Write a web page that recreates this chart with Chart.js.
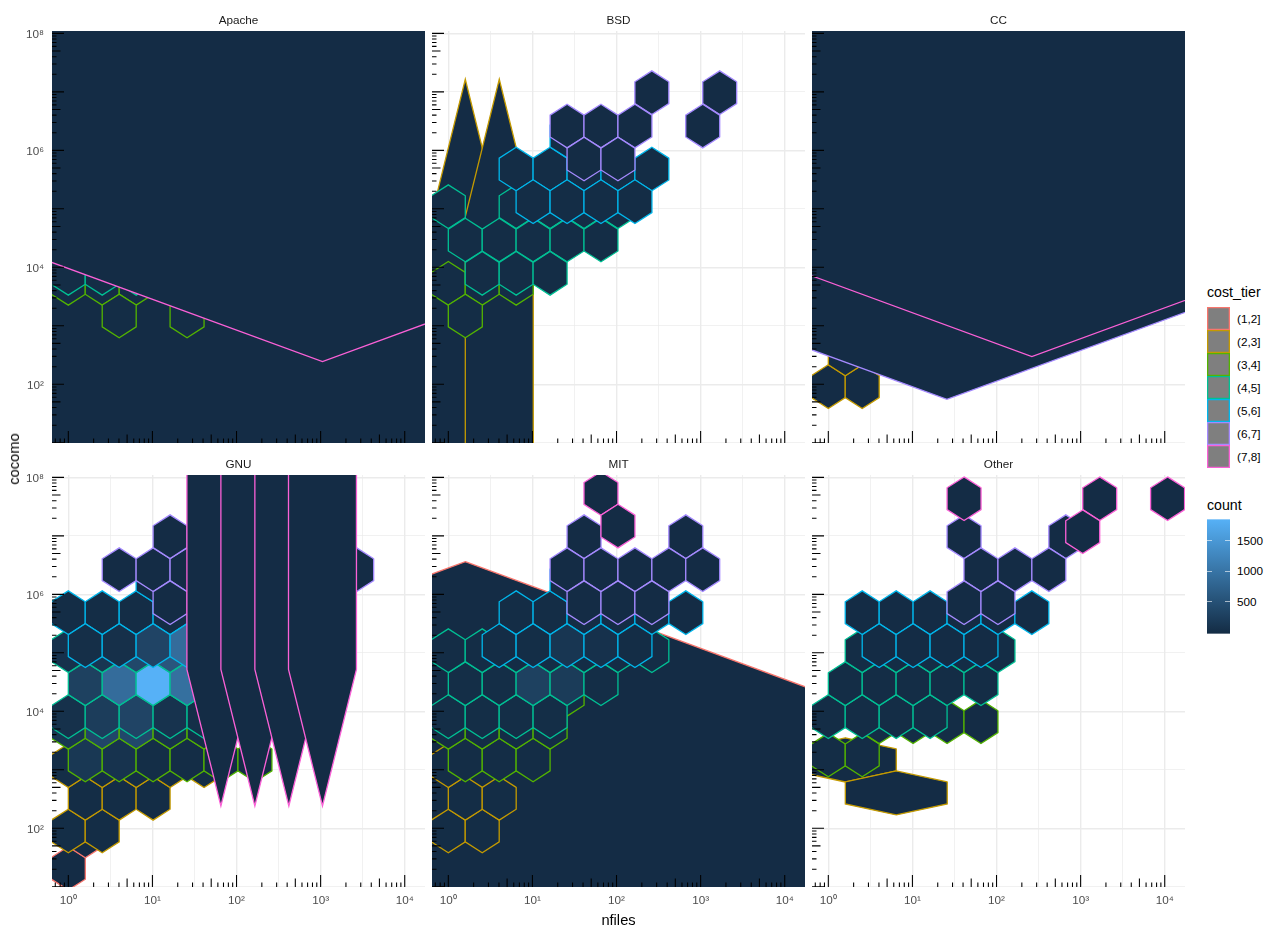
<!DOCTYPE html>
<html>
<head>
<meta charset="utf-8">
<title>cocomo vs nfiles</title>
<script src="https://cdn.jsdelivr.net/npm/chart.js@4/dist/chart.umd.js"></script>
<style>
  html, body { margin: 0; padding: 0; background: #fff; }
  body { position: relative; width: 1280px; height: 936px; overflow: hidden; font-family: "Liberation Sans", sans-serif; color: #000; }
  canvas { position: absolute; }
  .txt { position: absolute; white-space: nowrap; line-height: 16px; height: 16px; }
  .key { position: absolute; left: 1207px; width: 23px; height: 23px; background: #7f7f7f; }
  .bar { position: absolute; left: 1207px; top: 519px; width: 23px; height: 115px; background: linear-gradient(#56b1f7, #132b43); }
  .barTick { position: absolute; height: 1px; width: 4.6px; background: rgba(255,255,255,.6); }
  .barEnd { position: absolute; left: 1207px; height: 1px; width: 23px; background: rgba(255,255,255,.35); }
</style>
</head>
<body>
<script>
const panelNames = ['Apache', 'BSD', 'CC', 'GNU', 'MIT', 'Other'];
const tierLabels = ['(1,2]', '(2,3]', '(3,4]', '(4,5]', '(5,6]', '(6,7]', '(7,8]'];
const tierColors = ['#F8766D', '#C49A00', '#53B400', '#00C094', '#00B6EB', '#A58AFF', '#FB61D7'];
const countLabels = [1500, 1000, 500];

const xTickValues = [1, 1e1, 1e2, 1e3, 1e4];
const xTickLabels = ['10⁰', '10¹', '10²', '10³', '10⁴'];
const xMinorValues = [3.162, 31.62, 316.2, 3162];
const yTickValues = [1e2, 1e4, 1e6, 1e8];
const yTickLabels = ['10²', '10⁴', '10⁶', '10⁸'];
const yMinorValues = [1e1, 1e3, 1e5, 1e7];

// hexes: [tier, log10 nfiles, log10 cocomo, count]
const hexApache = [
  [3, 0, 3.726, 30], [3, .403, 3.726, 30], [3, .807, 3.726, 30], [3, .605, 3.168, 30], [3, 1.412, 3.168, 30],
  [4, 0, 3.897, 30], [4, .403, 3.897, 30], [4, .807, 3.897, 30],
];
const hexBSD = [
  [3, 0, 3.726, 30], [3, .403, 3.726, 30], [3, .807, 3.726, 30], [3, .202, 3.168, 30],
  [4, 0, 5.037, 30], [4, .807, 5.037, 30], [4, 1.21, 5.037, 30], [4, 1.614, 5.037, 30], [4, 2.017, 5.037, 30],
  [4, .202, 4.467, 30], [4, .605, 4.467, 30], [4, 1.008, 4.467, 40], [4, 1.412, 4.467, 30], [4, 1.815, 4.467, 30],
  [4, .403, 3.897, 30], [4, .807, 3.897, 30], [4, 1.21, 3.897, 30],
  [5, .807, 5.681, 30], [5, 1.21, 5.681, 30], [5, 1.614, 5.681, 30], [5, 2.017, 5.681, 30], [5, 2.42, 5.681, 30],
  [5, 1.008, 5.123, 30], [5, 1.412, 5.123, 30], [5, 1.815, 5.123, 30], [5, 2.219, 5.123, 30], [5, 1.412, 6.245, 30],
  [6, 2.42, 6.986, 20], [6, 3.227, 6.986, 20], [6, 1.412, 6.416, 20], [6, 1.815, 6.416, 20], [6, 2.219, 6.416, 20],
  [6, 3.025, 6.416, 20], [6, 1.614, 5.852, 20], [6, 2.017, 5.852, 20],
];
const hexCC = [
  [2, 0, 1.96, 20], [2, .403, 1.96, 20], [2, .202, 2.519, 20],
];
const hexGNU = [
  [1, 0, 1.316, 20], [1, .202, 1.869, 20],
  [2, 0, 1.954, 40], [2, .403, 1.954, 30], [2, .202, 2.513, 30], [2, .605, 2.513, 30], [2, 1.008, 2.513, 30],
  [2, 0, 3.071, 40], [2, .403, 3.071, 30], [2, .807, 3.071, 30], [2, 1.21, 3.071, 30], [2, 1.614, 3.071, 30],
  [3, .202, 3.168, 180], [3, .605, 3.168, 110], [3, 1.008, 3.168, 40], [3, 1.412, 3.168, 30], [3, 1.815, 3.168, 20], [3, 2.219, 3.168, 20],
  [3, 0, 3.726, 150], [3, .403, 3.726, 380], [3, .807, 3.726, 400], [3, 1.21, 3.726, 100], [3, 1.614, 3.726, 40],
  [4, 0, 3.909, 80], [4, .403, 3.909, 250], [4, .807, 3.909, 350], [4, 1.21, 3.909, 110], [4, 1.614, 3.909, 50],
  [4, .202, 4.473, 300], [4, .605, 4.473, 900], [4, 1.008, 4.473, 1850], [4, 1.412, 4.473, 950],
  [4, 0, 5.037, 90], [4, .403, 5.037, 150], [4, .807, 5.037, 400], [4, 1.21, 5.037, 600],
  [5, 0, 5.687, 30], [5, .403, 5.687, 30], [5, .807, 5.687, 30], [5, 1.21, 5.687, 40],
  [5, .202, 5.123, 50], [5, .605, 5.123, 70], [5, 1.008, 5.123, 350], [5, 1.412, 5.123, 900], [5, 1.008, 6.245, 20],
  [6, .605, 6.422, 20], [6, 1.008, 6.422, 20], [6, 1.412, 6.422, 20], [6, 1.21, 6.986, 20], [6, 1.21, 5.858, 20], [6, 3.429, 6.422, 20],
];
const hexMIT = [
  [2, 0, 1.954, 30], [2, .403, 1.954, 30], [2, .202, 2.513, 30], [2, .605, 2.513, 30], [2, 0, 3.071, 30],
  [3, .202, 3.168, 30], [3, .605, 3.168, 30], [3, 1.008, 3.168, 30],
  [3, 0, 3.726, 30], [3, .403, 3.726, 30], [3, .807, 3.726, 30], [3, 1.21, 3.726, 30], [3, 1.412, 4.291, 30],
  [4, 0, 3.909, 40], [4, .403, 3.909, 40], [4, .807, 3.909, 40], [4, 1.21, 3.909, 40],
  [4, .202, 4.473, 40], [4, .605, 4.473, 40], [4, 1.008, 4.473, 300], [4, 1.412, 4.473, 230], [4, 1.815, 4.473, 40],
  [4, 0, 5.037, 30], [4, .403, 5.037, 30], [4, .807, 5.037, 30], [4, 1.21, 5.037, 30], [4, 1.614, 5.037, 30], [4, 2.017, 5.037, 30], [4, 2.42, 5.037, 30],
  [5, .807, 5.687, 30], [5, 1.21, 5.687, 30], [5, 1.614, 5.687, 30], [5, 2.017, 5.687, 30], [5, 2.42, 5.687, 30], [5, 2.824, 5.687, 20],
  [5, .605, 5.123, 30], [5, 1.008, 5.123, 40], [5, 1.412, 5.123, 150], [5, 1.815, 5.123, 90], [5, 2.219, 5.123, 30], [5, 1.412, 6.245, 30],
  [6, 1.614, 6.986, 20], [6, 2.824, 6.986, 20],
  [6, 1.412, 6.422, 20], [6, 1.815, 6.422, 20], [6, 2.219, 6.422, 20], [6, 2.622, 6.422, 20], [6, 3.025, 6.422, 20],
  [6, 1.614, 5.858, 20], [6, 2.017, 5.858, 20], [6, 2.42, 5.858, 20],
  [7, 1.815, 7.726, 20], [7, 2.017, 7.168, 20],
];
const hexOther = [
  [3, 0, 3.254, 30], [3, .403, 3.254, 30], [3, .605, 3.823, 30], [3, 1.008, 3.823, 30], [3, 1.412, 3.823, 30], [3, 1.815, 3.823, 20],
  [4, 0, 3.909, 30], [4, .403, 3.909, 30], [4, .807, 3.909, 30], [4, 1.21, 3.909, 30],
  [4, .202, 4.473, 30], [4, .605, 4.473, 30], [4, 1.008, 4.473, 30], [4, 1.412, 4.473, 30], [4, 1.815, 4.473, 30],
  [4, .403, 5.037, 30], [4, .807, 5.037, 30], [4, 1.21, 5.037, 30], [4, 1.614, 5.037, 30], [4, 2.017, 5.037, 30],
  [5, .403, 5.687, 20], [5, .807, 5.687, 20], [5, 1.21, 5.687, 20], [5, 1.614, 5.687, 20], [5, 2.017, 5.687, 20], [5, 2.42, 5.687, 20],
  [5, .605, 5.123, 20], [5, 1.008, 5.123, 20], [5, 1.412, 5.123, 20], [5, 1.815, 5.123, 20],
  [6, 1.614, 6.986, 20], [6, 2.824, 6.986, 20], [6, 1.815, 6.422, 20], [6, 2.219, 6.422, 20], [6, 2.622, 6.422, 20], [6, 1.614, 5.858, 20], [6, 2.017, 5.858, 20],
  [7, 1.614, 7.635, 20], [7, 3.227, 7.635, 20], [7, 4.034, 7.635, 20], [7, 3.025, 7.071, 20],
];

// bins whose tier had too few rows or columns, so the hex came out stretched:
// [tier, log10 nfiles, log10 cocomo, count, half width, half side] in log10 units
const wideApache = [[2, 1.5, 4, 20, 12, 12], [7, 3.022, 8.655, 20, 5.941, 3.134]];
const wideBSD = [[2, .202, 2.519, 20, .404, 2.348], [2, .606, 2.519, 20, .404, 2.348]];
const wideCC = [[6, 1.41, 7.978, 20, 5.941, 3.117], [7, 2.42, 8.753, 20, 5.941, 3.14]];
const wideGNU = [[7, 1.814, 7.054, 20, .404, 2.336], [7, 2.218, 7.054, 20, .404, 2.336], [7, 2.622, 7.054, 20, .404, 2.336], [7, 3.022, 7.054, 20, .404, 2.336]];
const wideMIT = [[1, .202, .268, 20, 5.941, 3.145]];
const wideOther = [[2, .202, 3.168, 20, .606, .188], [2, .808, 2.604, 20, .606, .188]];

const panelHexes = [hexApache, hexBSD, hexCC, hexGNU, hexMIT, hexOther];
const panelWide = [wideApache, wideBSD, wideCC, wideGNU, wideMIT, wideOther];

const HEX_W = 0.202, HEX_U = 0.1866;
const COUNT_MAX = 1850;
const logMultiples = [1, 2, 3, 4, 5, 6, 7, 8, 9];

function countColor(c) {
  const t = Math.min(1, Math.max(0, (c - 1) / (COUNT_MAX - 1)));
  const a = [19, 43, 67], b = [86, 177, 247];
  return 'rgb(' + a.map((v, i) => Math.round(v + (b[i] - v) * t)).join(',') + ')';
}

function hexPoints(lx, ly, w, u) {
  const pts = [[lx, ly + 2 * u], [lx + w, ly + u], [lx + w, ly - u], [lx, ly - 2 * u], [lx - w, ly - u], [lx - w, ly + u]];
  // walk past the start so the outline closes with a proper corner
  return pts.concat([pts[0], pts[1]]).map(p => ({x: 10 ** p[0], y: 10 ** p[1]}));
}

function makeDatasets(i) {
  const all = [];
  panelWide[i].forEach(h => all.push({tier: h[0], pts: hexPoints(h[1], h[2], h[4], h[5]), count: h[3]}));
  panelHexes[i].forEach(h => all.push({tier: h[0], pts: hexPoints(h[1], h[2], HEX_W, HEX_U), count: h[3]}));
  all.sort((a, b) => a.tier - b.tier);
  const sets = all.map(h => ({
    data: h.pts,
    showLine: true,
    fill: 'shape',
    backgroundColor: countColor(h.count),
    borderColor: tierColors[h.tier - 1],
    borderWidth: 1.3,
    borderJoinStyle: 'miter',
    pointRadius: 0,
    clip: 0,
  }));
  return sets.reverse(); // chart.js paints index 0 last
}

// annotation_logticks style marks along the left and bottom of each panel
const logTicks = {
  id: 'logTicks',
  afterDatasetsDraw(chart) {
    const {ctx, chartArea: a, scales: {x, y}} = chart;
    ctx.save();
    ctx.beginPath();
    ctx.rect(a.left, a.top, a.right - a.left, a.bottom - a.top);
    ctx.clip();
    ctx.strokeStyle = '#000';
    ctx.lineWidth = 1.07;
    ctx.beginPath();
    for (let e = -1; e < 9; e++) {
      logMultiples.forEach(m => {
        const len = m === 1 ? 12 : m === 5 ? 8.5 : 4.5;
        const v = m * 10 ** e;
        if (v >= y.min && v <= y.max) {
          const p = y.getPixelForValue(v);
          ctx.moveTo(a.left, p);
          ctx.lineTo(a.left + len, p);
        }
        if (v >= x.min && v <= x.max) {
          const p = x.getPixelForValue(v);
          ctx.moveTo(p, a.bottom);
          ctx.lineTo(p, a.bottom - len);
        }
      });
    }
    ctx.stroke();
    ctx.restore();
  }
};

function axisOptions(major, minor, labels, showLabels, extra, tickExtra) {
  return Object.assign({
    type: 'logarithmic',
    bounds: 'data',
    border: {display: false},
    grid: {
      color: '#ebebeb',
      drawTicks: false,
      lineWidth: c => major.includes(c.tick.value) ? 1.4 : 0.7,
    },
    afterBuildTicks: s => { s.ticks = major.concat(minor).sort((a, b) => a - b).map(v => ({value: v})); },
    ticks: Object.assign({
      display: showLabels,
      autoSkip: false,
      maxRotation: 0,
      color: '#4d4d4d',
      font: {size: 11.73},
      callback: v => major.includes(v) ? labels[major.indexOf(v)] : '',
    }, tickExtra),
  }, extra);
}

const PAD_L = 52, PAD_T = 31, PANEL_W = 373, PANEL_H = 412, PAD_B = 30;
const panelLefts = [52, 432, 812];
const rowTops = [31, 475];

Chart.defaults.font.family = '"Liberation Sans", sans-serif';

panelNames.forEach((name, i) => {
  const col = i % 3, row = Math.floor(i / 3);
  const cv = document.createElement('canvas');
  const w = PAD_L + PANEL_W, h = PAD_T + PANEL_H + PAD_B;
  cv.style.left = (panelLefts[col] - PAD_L) + 'px';
  cv.style.top = (rowTops[row] - PAD_T) + 'px';
  cv.style.width = w + 'px';
  cv.style.height = h + 'px';
  cv.width = w;
  cv.height = h;
  document.body.appendChild(cv);
  new Chart(cv.getContext('2d'), {
    type: 'scatter',
    data: {datasets: makeDatasets(i)},
    plugins: [logTicks],
    options: {
      responsive: false,
      animation: false,
      events: [],
      layout: {autoPadding: false},
      plugins: {
        legend: {display: false},
        tooltip: {enabled: false},
        title: {
          display: true,
          text: name,
          fullSize: false,
          color: '#1a1a1a',
          font: {size: 11.73, weight: 'normal', lineHeight: 1.2},
          padding: {top: 13.5, bottom: 3.42},
        },
      },
      scales: {
        x: axisOptions(xTickValues, xMinorValues, xTickLabels, row === 1, {
          min: 10 ** -0.194,
          max: 10 ** 4.241,
          afterFit: s => { s.height = PAD_B; },
        }, {padding: 7}),
        y: axisOptions(yTickValues, yMinorValues, yTickLabels, col === 0, {
          min: 10 ** 0.996,
          max: 10 ** 8.041,
          afterFit: s => { s.width = PAD_L; },
        }, {padding: 8, labelOffset: 1.5}),
      },
    },
  });
});

function addText(str, left, top, size, color) {
  const d = document.createElement('div');
  d.className = 'txt';
  d.textContent = str;
  d.style.left = left + 'px';
  d.style.top = top + 'px';
  d.style.fontSize = size + 'px';
  if (color) d.style.color = color;
  document.body.appendChild(d);
  return d;
}

// axis titles
const xTitle = addText('nfiles', 618.5, 912, 14.67);
xTitle.style.transform = 'translateX(-50%)';
const yTitle = addText('cocomo', 14, 451, 14.67);
yTitle.style.transform = 'translateX(-50%) rotate(-90deg)';

// legends
addText('cost_tier', 1207, 284, 14.2);
tierLabels.forEach((lab, i) => {
  const k = document.createElement('div');
  k.className = 'key';
  k.style.top = (307 + 23 * i) + 'px';
  k.style.boxShadow = 'inset 0 0 0 1.3px ' + tierColors[i];
  document.body.appendChild(k);
  addText(lab, 1237, 310.5 + 23 * i, 11.73);
});

addText('count', 1207, 497, 14.2);
const bar = document.createElement('div');
bar.className = 'bar';
document.body.appendChild(bar);
[519, 633].forEach(y => {
  const e = document.createElement('div');
  e.className = 'barEnd';
  e.style.top = y + 'px';
  document.body.appendChild(e);
});
countLabels.forEach(v => {
  const y = 632.2 - (v / 500) * 30.5;
  [1207, 1225.4].forEach(x => {
    const t = document.createElement('div');
    t.className = 'barTick';
    t.style.left = x + 'px';
    t.style.top = (y - 0.5) + 'px';
    document.body.appendChild(t);
  });
  addText(String(v), 1237, y - 8, 11.73);
});
</script>
</body>
</html>
